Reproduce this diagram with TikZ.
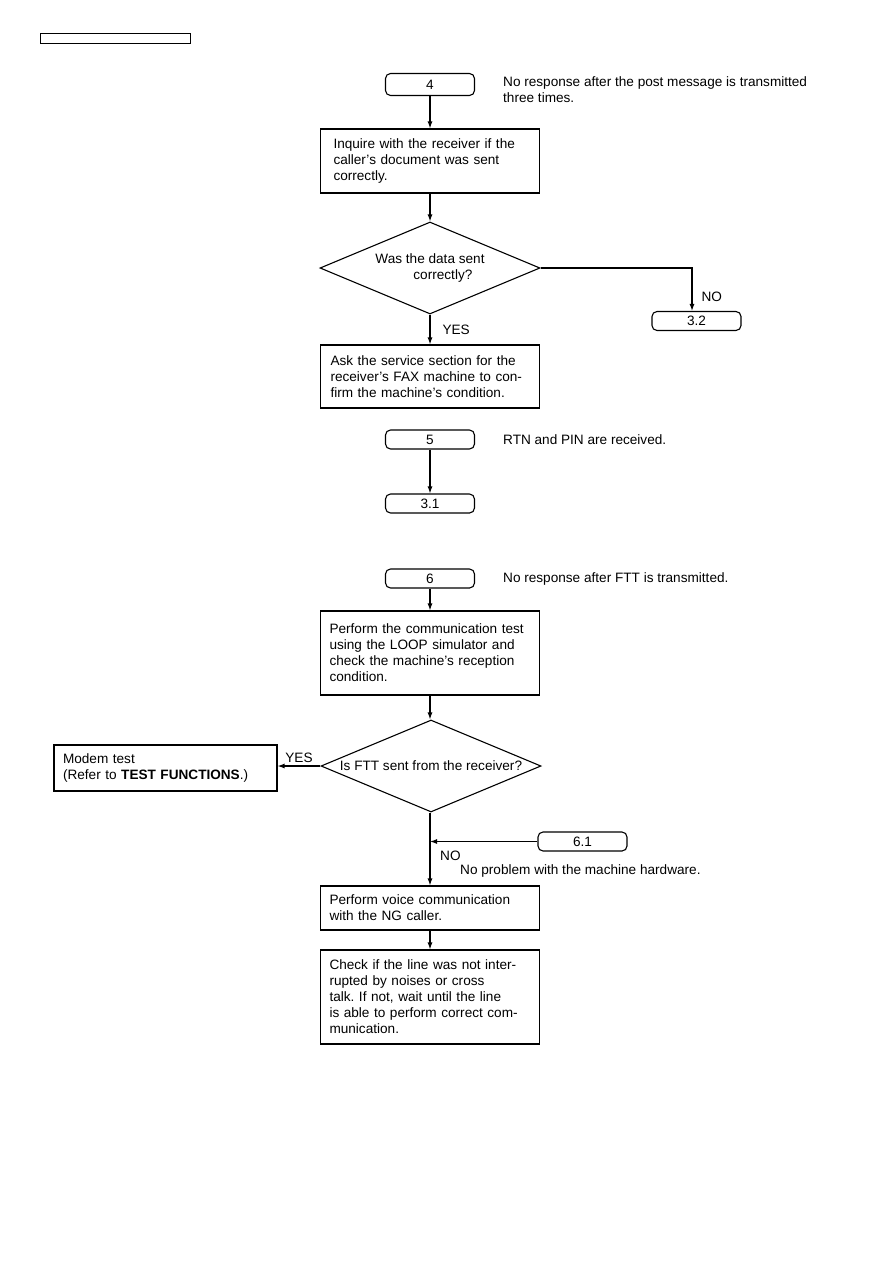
\documentclass[tikz,border=0pt]{standalone}
\usepackage{fontspec}
\setmainfont{Liberation Sans}
\usetikzlibrary{shapes.geometric, arrows.meta, positioning}
\frenchspacing

\begin{document}
\begin{tikzpicture}[
    x=1pt, y=-1pt,
    font=\fontsize{13.6pt}{16pt}\selectfont,
    every node/.style={inner sep=0pt},
    proc/.style={draw=black, line width=1.1pt, align=left, inner xsep=9pt},
    term/.style={draw=black, line width=1.1pt, rounded corners=5pt, minimum width=89pt, minimum height=19pt, align=center},
    decision/.style={draw=black, line width=1.1pt, diamond, aspect=2.4, minimum width=220pt, minimum height=92pt, align=left},
    note/.style={align=left, anchor=west},
    arrow/.style={-{Latex[length=7pt, width=5pt]}, line width=1.2pt, draw=black}
  ]
  \useasboundingbox (0,0) rectangle (893,1263);

  % Header
  \node[draw, line width=0.8pt, minimum width=150pt, minimum height=10pt] (header) at (115,38) {};

  % Flow 4: no response after post message
  \node[term, minimum height=22pt] (t4) at (430,84.5) {4};
  \node[note, anchor=north west] (note4) at (503,76) {No response after the post message is transmitted\\three times.};
  \node[proc, text width=193pt, inner xsep=13pt, minimum height=64pt] (inquire) at (430,161) {Inquire with the receiver if the\\caller's document was sent\\correctly.};
  \node[decision] (dec1) at (430,268) {Was the data sent\\\hspace*{38pt}correctly?};
  \node[term] (t32) at (696.5,321) {3.2};
  \node[proc, text width=199pt, inner xsep=10pt, minimum height=63pt] (ask) at (430,376.5) {Ask the service section for the\\receiver's FAX machine to con-\\firm the machine's condition.};

  % Flow 5: RTN and PIN
  \node[term] (t5) at (430,439.5) {5};
  \node[note] (note5) at (503,440) {RTN and PIN are received.};
  \node[term] (t31) at (430,503.5) {3.1};

  % Flow 6: no response after FTT
  \node[term] (t6) at (430,578.5) {6};
  \node[note] (note6) at (503,579) {No response after FTT is transmitted.};
  \node[proc, text width=201pt, minimum height=84pt] (commtest) at (430,653) {Perform the communication test\\using the LOOP simulator and\\check the machine's reception\\condition.};
  \node[decision, label={[name=dec2txt]center:Is FTT sent from the receiver?}] (dec2) at (431,766) {};
  \node[proc, text width=205pt, inner xsep=9pt, minimum height=46pt] (modem) at (165.5,768) {Modem test\\(Refer to \textbf{TEST FUNCTIONS}.)};
  \node[term] (t61) at (582.5,841.5) {6.1};
  \coordinate (join) at (430,841.5);
  \node[note] (lblno) at (440,856) {NO};
  \node[note] (note61) at (460,871) {No problem with the machine hardware.};
  \node[proc, text width=201pt, minimum height=44pt] (voice) at (430,908) {Perform voice communication\\with the NG caller.};
  \node[proc, text width=201pt, minimum height=94pt] (check) at (430,997) {Check if the line was not inter-\\rupted by noises or cross\\talk. If not, wait until the line\\is able to perform correct com-\\munication.};

  % Arrows
  \draw[arrow] (t4) -- (inquire);
  \draw[arrow] (inquire) -- (dec1);
  \draw[arrow] (dec1.east) -| node[pos=0.84, right, xshift=9pt] {NO} ([xshift=-4.5pt]t32.north);
  \draw[arrow] (dec1.south) -- node[right, xshift=12pt] {YES} (ask.north);
  \draw[arrow] (t5) -- (t31);
  \draw[arrow] (t6) -- (commtest);
  \draw[arrow] (commtest) -- (commtest.south |- dec2.north);
  \draw[arrow] (dec2.west) -- node[above, yshift=3pt] {YES} (dec2.west -| modem.east);
  \draw[arrow] (dec2.south -| voice.north) -- (voice.north);
  \draw[arrow] (t61.west) -- (join);
  \draw[arrow] (voice) -- (check);

\end{tikzpicture}
\end{document}
